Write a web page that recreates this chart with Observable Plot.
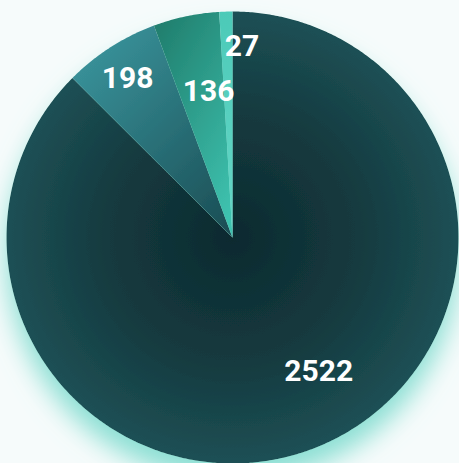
<!DOCTYPE html>
<html><head><meta charset="utf-8">
<script src="https://cdn.jsdelivr.net/npm/d3@7"></script>
<script src="https://cdn.jsdelivr.net/npm/@observablehq/plot@0.6"></script>
<style>
html,body{margin:0;padding:0;background:#f6fbfb;overflow:hidden}
#chart svg{display:block}
</style></head><body><div id="chart"></div>
<script>
// ---- data ----
const categories = ["s1", "s2", "s3", "s4"];
const values = [2522, 198, 136, 27];
const labels = ["2522", "198", "136", "27"];

// ---- styles (kept apart from data) ----
const fillIds = ["gBig", "gS2", "gS3", "gS4"];
// label placement relative to each slice: radius fraction and angular shift (degrees)
const labelRadius = [0.706, 0.845, 0.655, 0.846];
const labelShift = [-10.2, -0.6, 2.6, 4.5];

const W = 459, H = 463;
const cx = 232, cy = 237, R = 226;

const arcs = d3.pie().sort(null).startAngle(0).endAngle(2 * Math.PI)(values);

// polygon outline of each slice in unit coordinates (x = sin a, y = cos a)
const slicePts = [];
arcs.forEach((a, i) => {
  const n = Math.max(4, Math.ceil((a.endAngle - a.startAngle) / (Math.PI / 360)));
  slicePts.push({cat: categories[i], x: 0, y: 0});
  for (let k = 0; k <= n; k++) {
    const t = a.startAngle + (a.endAngle - a.startAngle) * k / n;
    slicePts.push({cat: categories[i], x: Math.sin(t), y: Math.cos(t)});
  }
  slicePts.push({cat: categories[i], x: 0, y: 0});
});

const labelData = arcs.map((a, i) => {
  const mid = (a.startAngle + a.endAngle) / 2 + labelShift[i] * Math.PI / 180;
  return {x: labelRadius[i] * Math.sin(mid), y: labelRadius[i] * Math.cos(mid), text: labels[i]};
});

function defsMark() {
  const g = d3.create("svg:g");
  const defs = g.append("defs");
  const rg = defs.append("radialGradient").attr("id", "gBig")
    .attr("cx", 0.5).attr("cy", 0.5).attr("r", 0.5);
  rg.append("stop").attr("offset", 0).attr("stop-color", "#0d2a2f");
  rg.append("stop").attr("offset", 0.55).attr("stop-color", "#143a3f");
  rg.append("stop").attr("offset", 1).attr("stop-color", "#1d5055");
  const l2 = defs.append("linearGradient").attr("id", "gS2")
    .attr("x1", 0.15).attr("y1", 0).attr("x2", 0.9).attr("y2", 1);
  l2.append("stop").attr("offset", 0).attr("stop-color", "#3a959d");
  l2.append("stop").attr("offset", 1).attr("stop-color", "#1b4f56");
  const l3 = defs.append("linearGradient").attr("id", "gS3")
    .attr("x1", 0.2).attr("y1", 0).attr("x2", 0.8).attr("y2", 1);
  l3.append("stop").attr("offset", 0).attr("stop-color", "#21806f");
  l3.append("stop").attr("offset", 1).attr("stop-color", "#3ec2af");
  const l4 = defs.append("linearGradient").attr("id", "gS4")
    .attr("x1", 0).attr("y1", 0).attr("x2", 0).attr("y2", 1);
  l4.append("stop").attr("offset", 0).attr("stop-color", "#4ccab8");
  l4.append("stop").attr("offset", 1).attr("stop-color", "#66d7c7");
  const f = defs.append("filter").attr("id", "glow")
    .attr("x", "-30%").attr("y", "-30%").attr("width", "160%").attr("height", "160%");
  f.append("feDropShadow").attr("dx", 0).attr("dy", 18).attr("stdDeviation", 13)
    .attr("flood-color", "#7fdccf").attr("flood-opacity", 0.9);
  return g.node();
}

const chart = Plot.plot({
  width: W, height: H,
  marginLeft: cx - R, marginRight: W - (cx + R),
  marginTop: cy - R, marginBottom: H - (cy + R),
  x: {domain: [-1, 1], axis: null},
  y: {domain: [-1, 1], axis: null},
  color: {type: "ordinal", domain: categories, range: fillIds.map(d => `url(#${d})`)},
  style: {background: "transparent", overflow: "visible"},
  marks: [
    defsMark,
    Plot.line(slicePts, {x: "x", y: "y", z: "cat", fill: "cat", stroke: "none", curve: "linear"}),
    Plot.text(labelData, {x: "x", y: "y", text: "text", fill: "white",
      fontSize: 30, fontWeight: 700, fontFamily: "Roboto"})
  ]
});
const lineG = chart.querySelector('g[aria-label="line"]');
if (lineG) lineG.setAttribute("filter", "url(#glow)");
document.getElementById("chart").appendChild(chart);
</script></body></html>
